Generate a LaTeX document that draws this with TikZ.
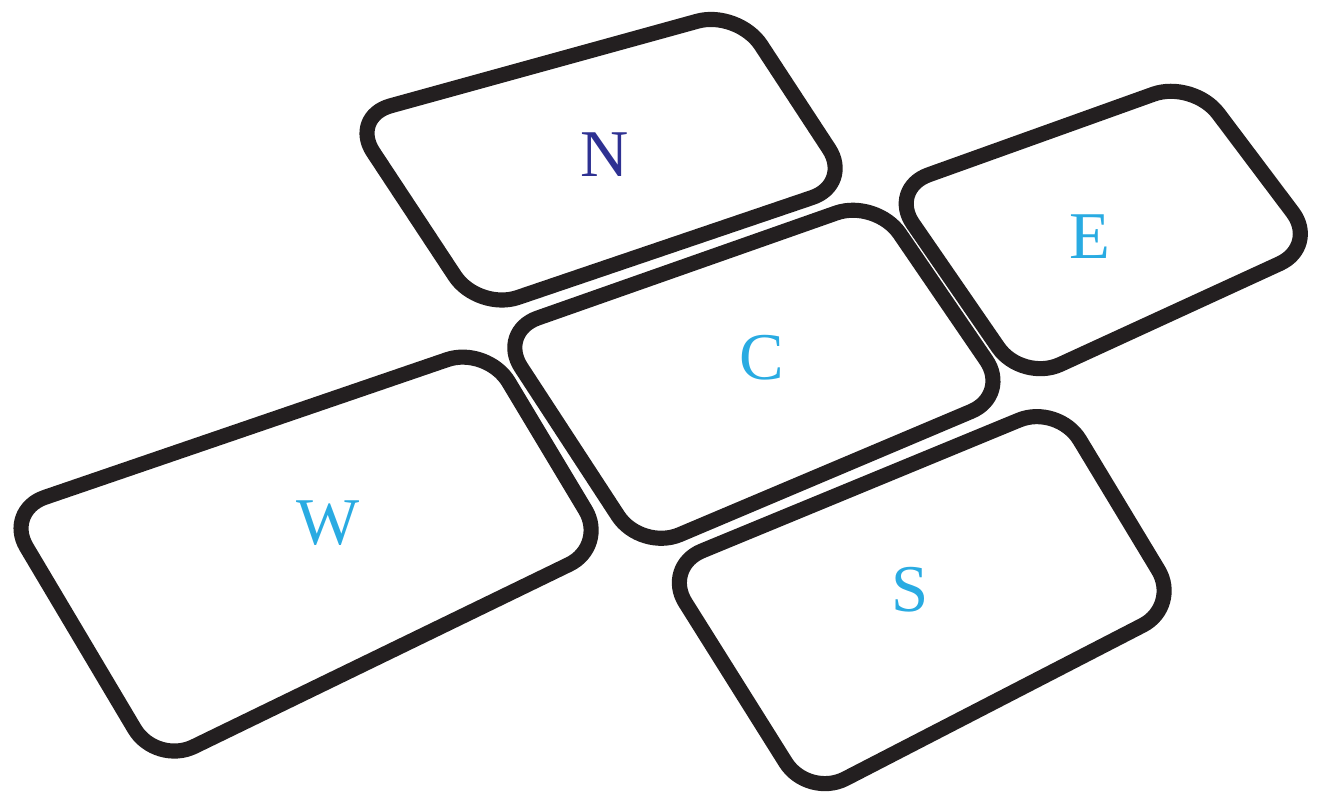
\documentclass[tikz,border=0pt]{standalone}
\usepackage{fontspec}
\setmainfont{Liberation Serif}
\usepackage{xcolor}
\usepackage{tikz}
\usetikzlibrary{calc}

\definecolor{tileink}{RGB}{35,31,32}
\definecolor{northblue}{RGB}{46,49,146}
\definecolor{skyblue}{RGB}{41,171,226}

\tikzset{
  tile/.style={line width=4.3pt, draw=tileink, rounded corners=0.42cm, line join=round},
  lbl/.style={font=\fontsize{19}{22}\selectfont, text=skyblue}
}

\begin{document}
\begin{tikzpicture}[x=0.01cm, y=-0.01cm]
  \useasboundingbox (0,0) rectangle (1321,800);

  % North tile
  \coordinate (N1) at (350,117);
  \coordinate (N2) at (738,10);
  \coordinate (N3) at (852,184);
  \coordinate (N4) at (478,311);
  \draw[tile] (N1) -- (N2) -- (N3) -- (N4) -- cycle;

  % East tile
  \coordinate (E1) at (889,189);
  \coordinate (E2) at (1193,80);
  \coordinate (E3) at (1318,246);
  \coordinate (E4) at (1022,382);
  \draw[tile] (E1) -- (E2) -- (E3) -- (E4) -- cycle;

  % Centre tile
  \coordinate (C1) at (498,332);
  \coordinate (C2) at (876,199);
  \coordinate (C3) at (1010,395);
  \coordinate (C4) at (641,551);
  \draw[tile] (C1) -- (C2) -- (C3) -- (C4) -- cycle;

  % West tile
  \coordinate (W1) at (5,511);
  \coordinate (W2) at (487,346);
  \coordinate (W3) at (607,546);
  \coordinate (W4) at (156,765);
  \draw[tile] (W1) -- (W2) -- (W3) -- (W4) -- cycle;

  % South tile
  \coordinate (S1) at (663,567);
  \coordinate (S2) at (1058,404);
  \coordinate (S3) at (1180,606);
  \coordinate (S4) at (808,798);
  \draw[tile] (S1) -- (S2) -- (S3) -- (S4) -- cycle;

  % Labels
  \node[lbl, text=northblue] (nlab) at (605,155) {N};
  \node[lbl] (elab) at (1090,237) {E};
  \node[lbl] (clab) at (762,358) {C};
  \node[lbl] (wlab) at (328,523) {W};
  \node[lbl] (slab) at (910,590) {S};
\end{tikzpicture}
\end{document}
